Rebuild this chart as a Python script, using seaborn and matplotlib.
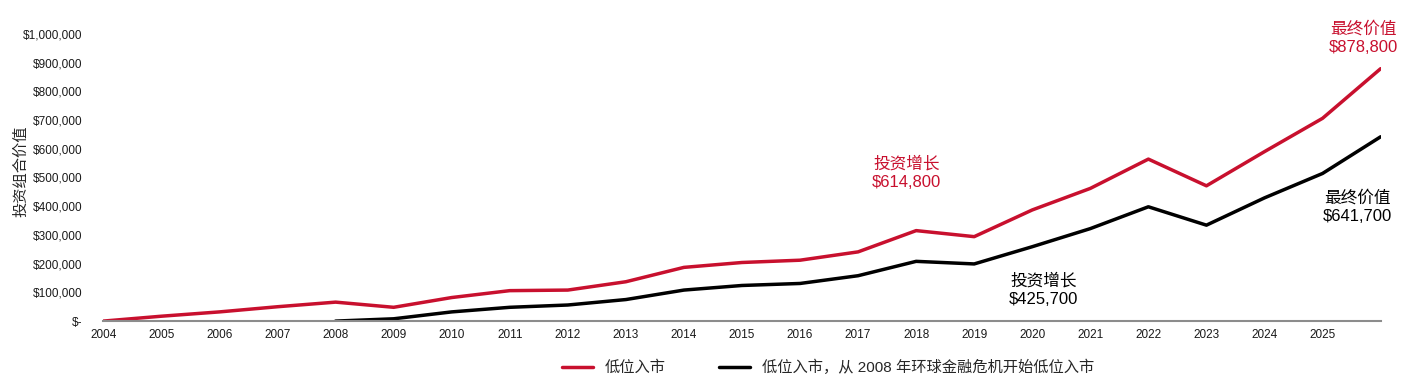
import pandas as pd
import seaborn as sns
import matplotlib.pyplot as plt
from matplotlib.ticker import FuncFormatter

# chart values
years = list(range(2004, 2027))
low_entry = [0, 17000, 32000, 50000, 66000, 48000, 82000, 106000, 108000, 137000,
             187000, 204000, 212000, 241000, 315000, 294000, 387000, 462000,
             564000, 471000, 590000, 706000, 878800]
gfc_years = list(range(2008, 2027))
gfc_entry = [0, 8000, 32000, 48000, 56000, 75000, 108000, 124000, 131000, 158000,
             208000, 199000, 259000, 322000, 398000, 334000, 429000, 514000, 641700]
tick_years = list(range(2004, 2026))

series_names = ['低位入市', '低位入市，从 2008 年环球金融危机开始低位入市']
colors = ['#C8102E', '#000000']

df = pd.concat([
    pd.DataFrame({'year': years, 'value': low_entry, 'series': series_names[0]}),
    pd.DataFrame({'year': gfc_years, 'value': gfc_entry, 'series': series_names[1]}),
])

sns.set_theme(style='white')
plt.rcParams['font.family'] = ['Liberation Sans', 'Noto Sans CJK SC']

fig = plt.figure(figsize=(14.16, 3.85), dpi=100)
ax = fig.add_axes([0.073, 0.166, 0.902, 0.746])

sns.lineplot(data=df, x='year', y='value', hue='series', palette=colors,
             linewidth=2.5, ax=ax, legend=False)

ax.set_xlim(2004, 2026)
ax.set_ylim(0, 1000000)
ax.set_xticks(tick_years)
ax.set_xticklabels([str(y) for y in tick_years])
ax.set_yticks(range(0, 1000001, 100000))
ax.yaxis.set_major_formatter(FuncFormatter(lambda v, p: '$-' if v == 0 else f'${v:,.0f}'))
ax.tick_params(axis='both', length=0, labelsize=8.5, colors='#1a1a1a')
ax.tick_params(axis='x', pad=6)
ax.tick_params(axis='y', pad=15)
ax.set_xlabel('')
ax.set_ylabel('投资组合价值', fontsize=11)
ax.yaxis.set_label_coords(-0.059, 0.52)

for s in ['top', 'right', 'left']:
    ax.spines[s].set_visible(False)
ax.spines['bottom'].set_color('#8c8c8c')
ax.spines['bottom'].set_linewidth(1.5)

# annotations
ax.text(2017.83, 514800, '投资增长\n$614,800', color=colors[0], fontsize=12,
        ha='center', va='center', linespacing=1.3)
ax.text(2020.2, 110000, '投资增长\n$425,700', color=colors[1], fontsize=12,
        ha='center', va='center', linespacing=1.3)
ax.text(2025.6, 397000, '最终价值\n$641,700', color=colors[1], fontsize=12,
        ha='center', va='center', linespacing=1.3)
ax.text(2025.7, 985000, '最终价值\n$878,800', color=colors[0], fontsize=12,
        ha='center', va='center', linespacing=1.3, clip_on=False)

handles = [plt.Line2D([], [], color=c, linewidth=2.5) for c in colors]
fig.legend(handles, series_names, loc='center', bbox_to_anchor=(0.585, 0.045),
           ncol=2, frameon=False, fontsize=11, handlelength=2, columnspacing=3.5)

fig.savefig('out.png', dpi=100)
